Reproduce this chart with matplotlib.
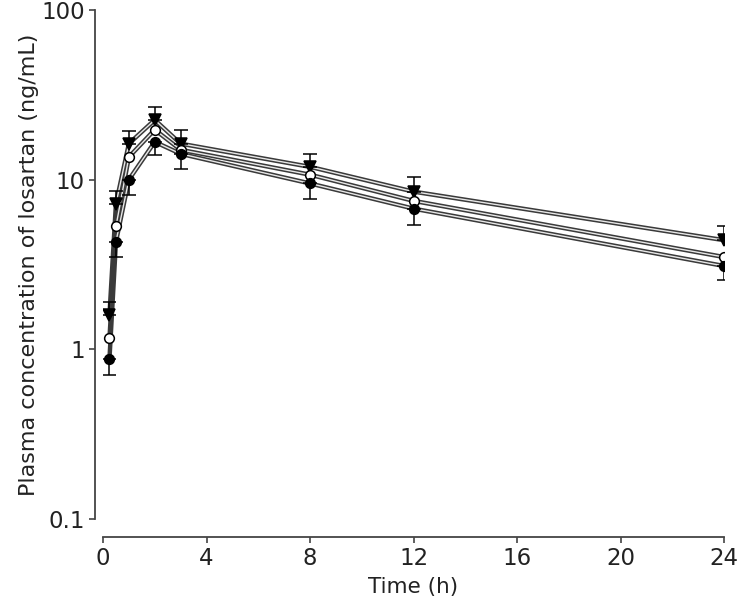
import matplotlib
matplotlib.use("Agg")
import matplotlib.pyplot as plt
from matplotlib.ticker import FixedLocator, NullLocator

# время отбора проб, ч
time_h = [0.25, 0.5, 1, 2, 3, 8, 12, 24]

# концентрации лозартана, нг/мл (три группы)
conc_tri = [1.6, 7.2, 16.3, 22.5, 16.3, 11.9, 8.5, 4.4]
conc_open = [1.16, 5.3, 13.6, 19.7, 15.0, 10.7, 7.5, 3.5]
conc_fill = [0.88, 4.3, 10.0, 16.7, 14.2, 9.5, 6.75, 3.1]

# верхние ошибки (треугольники) и нижние (закрашенные кружки)
err_tri_up = [0.29, 1.4, 3.1, 4.4, 3.4, 2.3, 1.9, 0.9]
err_fill_dn = [0.17, 0.8, 1.9, 2.7, 2.6, 1.8, 1.35, 0.55]

y_ticks = [0.1, 1, 10, 100]
y_labels = ["0.1", "1", "10", "100"]
x_ticks = [0, 4, 8, 12, 16, 20, 24]

plt.rcParams['font.family'] = ['DejaVu Sans']

fig = plt.figure(figsize=(7.4, 5.99), dpi=100)
ax = fig.add_axes([103 / 740, 1 - 519 / 599, 621 / 740, 509 / 599])

line_col = "#3a3a3a"
series = [
    (conc_tri, "v", "black"),
    (conc_open, "o", "white"),
    (conc_fill, "o", "black"),
]

# линии: тёмная толстая + светлая тонкая сверху (эффект "двойной" линии)
for y, _, _ in series:
    ax.plot(time_h, y, color=line_col, lw=3.2, zorder=2, solid_capstyle="butt")
for y, _, _ in series:
    ax.plot(time_h[1:], y[1:], color="#e8e8e8", lw=1.0, zorder=2.1)

# планки погрешностей
ax.errorbar(time_h, conc_tri, yerr=[[0] * len(time_h), err_tri_up], fmt="none",
            ecolor="black", elinewidth=1.1, capsize=5, capthick=1.1, zorder=3)
ax.errorbar(time_h, conc_fill, yerr=[err_fill_dn, [0] * len(time_h)], fmt="none",
            ecolor="black", elinewidth=1.1, capsize=5, capthick=1.1, zorder=3)

for y, m, fc in series:
    ms = 8.5 if m == "v" else 7
    ax.plot(time_h, y, linestyle="none", marker=m, markersize=ms,
            markerfacecolor=fc, markeredgecolor="black", markeredgewidth=1.1, zorder=4)

ax.set_yscale("log")
ax.set_ylim(0.1, 100)
ax.set_xlim(0, 24)
ax.yaxis.set_major_locator(FixedLocator(y_ticks))
ax.yaxis.set_minor_locator(NullLocator())
ax.set_yticklabels(y_labels)
ax.set_xticks(x_ticks)

for s in ["top", "right"]:
    ax.spines[s].set_visible(False)
ax.spines["left"].set_position(("outward", 6))
ax.spines["bottom"].set_position(("outward", 13))
for s in ["left", "bottom"]:
    ax.spines[s].set_color("#444444")
    ax.spines[s].set_linewidth(1.3)

ax.tick_params(axis="both", direction="out", length=4, width=1.2, color="#444444",
               labelsize=16.5, labelcolor="#222222", pad=3)

ax.set_xlabel("Time (h)", fontsize=15.5, color="#222222", labelpad=5)
ax.set_ylabel("Plasma concentration of losartan (ng/mL)", fontsize=16,
              color="#222222", labelpad=2)

fig.savefig("out.png", dpi=100)
